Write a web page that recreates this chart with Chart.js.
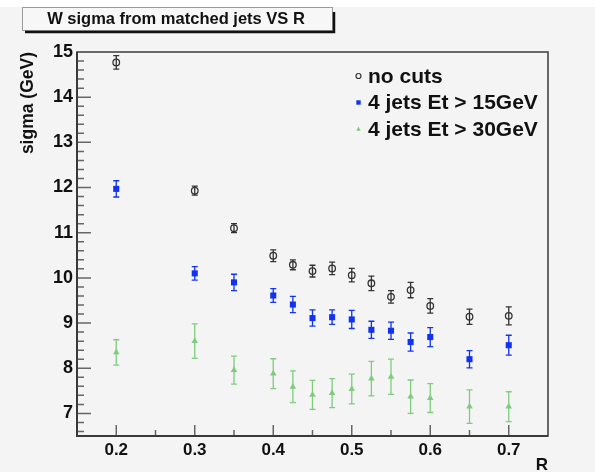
<!DOCTYPE html>
<html>
<head>
<meta charset="utf-8">
<script src="https://cdn.jsdelivr.net/npm/chart.js@4.4.1/dist/chart.umd.min.js"></script>
<style>
html,body{margin:0;padding:0;background:#fff;}
canvas{display:block;}
</style>
</head>
<body>
<canvas id="c" width="595" height="472"></canvas>
<script>
// ---- data ----
const rValues = [0.2, 0.3, 0.35, 0.4, 0.425, 0.45, 0.475, 0.5, 0.525, 0.55, 0.575, 0.6, 0.65, 0.7];
const noCuts      = [14.77, 11.93, 11.10, 10.49, 10.29, 10.15, 10.21, 10.06, 9.88, 9.58, 9.73, 9.38, 9.14, 9.16];
const noCutsErr   = [0.15, 0.10, 0.10, 0.13, 0.11, 0.13, 0.14, 0.15, 0.16, 0.14, 0.17, 0.16, 0.17, 0.20];
const et15        = [11.97, 10.10, 9.90, 9.61, 9.41, 9.11, 9.13, 9.08, 8.85, 8.83, 8.58, 8.69, 8.20, 8.51];
const et15Err     = [0.18, 0.15, 0.18, 0.15, 0.18, 0.18, 0.16, 0.20, 0.19, 0.19, 0.20, 0.21, 0.19, 0.22];
const et30        = [8.35, 8.60, 7.96, 7.88, 7.59, 7.41, 7.45, 7.54, 7.77, 7.81, 7.37, 7.34, 7.15, 7.15];
const et30Err     = [0.28, 0.38, 0.31, 0.33, 0.35, 0.32, 0.32, 0.33, 0.38, 0.39, 0.37, 0.32, 0.37, 0.33];
const seriesLabels = ['no cuts', '4 jets Et > 15GeV', '4 jets Et > 30GeV'];
const xTicks = [0.2, 0.3, 0.4, 0.5, 0.6, 0.7];
const yTicks = [7, 8, 9, 10, 11, 12, 13, 14, 15];
const titleText = 'W sigma from matched jets VS R';
const xTitle = 'R';
const yTitle = 'sigma (GeV)';

const FONT = '"Liberation Sans", Arial, Helvetica, sans-serif';
const toPts = (ys) => rValues.map((x, i) => ({x: x, y: ys[i]}));

const colors = ['#333333', '#1233ee', '#7fcc7f'];
const errs = [noCutsErr, et15Err, et30Err];

function drawMarker(ctx, style, x, y, s, color) {
  ctx.save();
  ctx.fillStyle = color; ctx.strokeStyle = color; ctx.lineWidth = 1.2;
  ctx.beginPath();
  if (style === 'circle') {
    ctx.arc(x, y, s, 0, Math.PI * 2); ctx.stroke();
  } else if (style === 'rect') {
    ctx.rect(x - s, y - s, 2 * s, 2 * s); ctx.fill();
  } else {
    ctx.moveTo(x, y - s * 1.15); ctx.lineTo(x + s, y + s * 0.75); ctx.lineTo(x - s, y + s * 0.75); ctx.closePath(); ctx.fill();
  }
  ctx.restore();
}

const rootPlugin = {
  id: 'rootStyle',
  beforeDraw(chart) {
    const ctx = chart.ctx;
    ctx.save();
    ctx.fillStyle = '#ffffff'; ctx.fillRect(0, 0, chart.width, chart.height);
    ctx.fillStyle = '#f4f4f4'; ctx.fillRect(0, 7, chart.width, chart.height - 7);
    ctx.restore();
  },
  beforeDatasetsDraw(chart) {
    const ctx = chart.ctx, xs = chart.scales.x, ys = chart.scales.y;
    ctx.save();
    chart.data.datasets.forEach((ds, di) => {
      ctx.strokeStyle = colors[di]; ctx.lineWidth = 1.3;
      ds.data.forEach((p, i) => {
        const e = errs[di][i];
        const px = xs.getPixelForValue(p.x);
        const y1 = ys.getPixelForValue(p.y + e), y2 = ys.getPixelForValue(p.y - e);
        ctx.beginPath();
        ctx.moveTo(px, y1); ctx.lineTo(px, y2);
        ctx.moveTo(px - 3, y1); ctx.lineTo(px + 3, y1);
        ctx.moveTo(px - 3, y2); ctx.lineTo(px + 3, y2);
        ctx.stroke();
      });
    });
    ctx.restore();
  },
  afterDatasetsDraw(chart) {
    const ctx = chart.ctx, a = chart.chartArea, xs = chart.scales.x, ys = chart.scales.y;
    ctx.save();
    // ticks
    ctx.strokeStyle = '#666'; ctx.lineWidth = 1.5;
    ctx.beginPath();
    for (let k = 0; k <= 12; k++) {
      const v = 0.15 + k * 0.05;
      const px = xs.getPixelForValue(v);
      if (px <= a.left + 1 || px >= a.right - 1) continue;
      const major = xTicks.some(t => Math.abs(t - v) < 1e-6);
      ctx.moveTo(px, a.bottom); ctx.lineTo(px, a.bottom - (major ? 11 : 6));
    }
    for (let k = 0; k <= 45; k++) {
      const v = 6.6 + k * 0.2;
      if (v > 15.01) break;
      const py = ys.getPixelForValue(v);
      if (py <= a.top + 1) continue;
      const major = yTicks.some(t => Math.abs(t - v) < 1e-6);
      ctx.moveTo(a.left, py); ctx.lineTo(a.left + (major ? 14 : 7), py);
    }
    ctx.stroke();
    // frame
    ctx.strokeStyle = '#3a3a3a'; ctx.lineWidth = 1.5;
    ctx.strokeRect(a.left, a.top, a.right - a.left, a.bottom - a.top);
    ctx.lineWidth = 2;
    ctx.beginPath(); ctx.moveTo(a.left, a.top); ctx.lineTo(a.left, a.bottom); ctx.lineTo(a.right, a.bottom); ctx.stroke();

    // title box
    ctx.fillStyle = '#f7f7f7'; ctx.fillRect(22, 7, 311, 24);
    ctx.strokeStyle = '#9a9a9a'; ctx.lineWidth = 1; ctx.strokeRect(22.5, 7.5, 310, 23);
    ctx.strokeStyle = '#111'; ctx.lineWidth = 2.5;
    ctx.beginPath(); ctx.moveTo(25, 32); ctx.lineTo(334, 32); ctx.lineTo(334, 12); ctx.stroke();
    ctx.fillStyle = '#111'; ctx.font = 'bold 16.5px ' + FONT;
    ctx.textAlign = 'center'; ctx.textBaseline = 'middle';
    ctx.fillText(titleText, 176, 19.5);

    // axis titles
    ctx.font = 'bold 17.5px ' + FONT; ctx.fillStyle = '#111';
    ctx.save(); ctx.translate(28, 52); ctx.rotate(-Math.PI / 2);
    ctx.textAlign = 'right'; ctx.textBaseline = 'middle';
    ctx.fillText(yTitle, 0, 0); ctx.restore();
    ctx.font = 'bold 17px ' + FONT; ctx.textAlign = 'right'; ctx.textBaseline = 'middle';
    ctx.fillText(xTitle, 548, 465);

    // legend
    const styles = ['circle', 'rect', 'triangle'];
    ctx.font = 'bold 21px ' + FONT; ctx.textAlign = 'left'; ctx.textBaseline = 'middle';
    seriesLabels.forEach((lab, i) => {
      const cy = 77 + i * 26.5;
      drawMarker(ctx, styles[i], 358.5, cy - 1, styles[i] === 'circle' ? 2.5 : 2.2, colors[i]);
      ctx.fillStyle = '#111';
      ctx.fillText(lab, 368, cy);
    });
    ctx.restore();
  }
};

new Chart(document.getElementById('c'), {
  type: 'scatter',
  data: {
    datasets: [
      {label: seriesLabels[0], data: toPts(noCuts), pointStyle: 'circle', pointRadius: 3.3,
       borderColor: colors[0], backgroundColor: 'rgba(0,0,0,0)', borderWidth: 1.3},
      {label: seriesLabels[1], data: toPts(et15), pointStyle: 'rect', pointRadius: 4.3,
       borderColor: colors[1], backgroundColor: colors[1], borderWidth: 0},
      {label: seriesLabels[2], data: toPts(et30), pointStyle: 'triangle', pointRadius: 3.8,
       borderColor: colors[2], backgroundColor: colors[2], borderWidth: 0}
    ]
  },
  options: {
    responsive: false,
    animation: false,
    devicePixelRatio: 1,
    layout: {padding: {left: 0, top: 52, right: 47, bottom: 0}},
    plugins: {legend: {display: false}, tooltip: {enabled: false}, title: {display: false}},
    scales: {
      x: {
        type: 'linear', min: 0.15, max: 0.75,
        grid: {display: false}, border: {display: false},
        afterBuildTicks: (s) => { s.ticks = xTicks.map(v => ({value: v})); },
        afterFit: (s) => { s.height = 36; },
        ticks: {font: {family: FONT, size: 17, weight: 'bold'}, color: '#111', padding: -4, maxRotation: 0, autoSkip: false,
                callback: (v) => v.toFixed(1)}
      },
      y: {
        type: 'linear', min: 6.5, max: 15,
        grid: {display: false}, border: {display: false},
        afterBuildTicks: (s) => { s.ticks = yTicks.map(v => ({value: v})); },
        afterFit: (s) => { s.width = 77; },
        ticks: {font: {family: FONT, size: 18, weight: 'bold'}, color: '#111', padding: -4, autoSkip: false,
                callback: (v) => String(v)}
      }
    }
  },
  plugins: [rootPlugin]
});
</script>
</body>
</html>
